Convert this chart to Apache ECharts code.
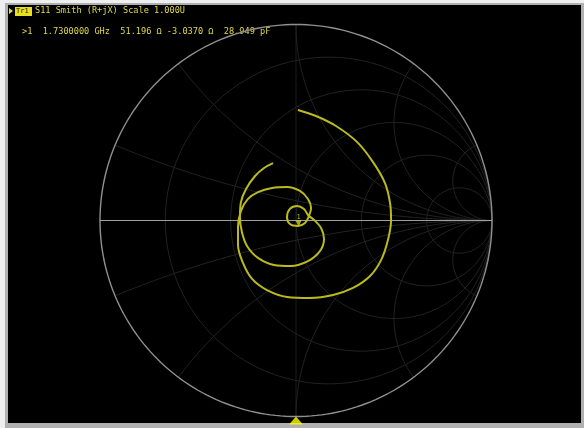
<!DOCTYPE html>
<html><head><meta charset="utf-8">
<script src="https://cdn.jsdelivr.net/npm/echarts/dist/echarts.min.js"></script>
<style>
html,body{margin:0;padding:0;width:584px;height:428px;overflow:hidden;background:#efefef;}
#frame{position:absolute;left:5px;top:3px;width:579px;height:425px;background:#b0b0b0;}
#screen{position:absolute;left:8px;top:5px;width:573px;height:418px;background:#000;}
#chart{position:absolute;left:0;top:0;width:584px;height:428px;}
</style></head>
<body>
<div id="frame"></div><div id="screen"></div><div id="chart"></div>
<script>
// Reflection-coefficient trace (Re, Im of S11)
const traceRe = [0.010,0.102,0.204,0.311,0.393,0.454,0.480,0.485,0.469,0.434,0.378,0.291,0.189,0.071,-0.046,-0.148,-0.224,-0.270,-0.296,-0.296,-0.281,-0.245,-0.194,-0.122,-0.046,0.020,0.061,0.077,
 0.066,0.046,0.010,-0.031,-0.046,-0.031,0.005,0.041,0.061,
 0.092,0.128,0.143,0.122,0.061,-0.026,-0.112,-0.194,-0.250,-0.276,-0.286,-0.281,-0.255,-0.209,-0.163,-0.117];
const traceIm = [0.564,0.533,0.482,0.401,0.298,0.191,0.089,0.003,-0.099,-0.202,-0.283,-0.344,-0.380,-0.395,-0.390,-0.355,-0.298,-0.217,-0.125,-0.033,0.048,0.110,0.145,0.166,0.171,0.151,0.110,0.064,
 0.023,-0.013,-0.028,-0.018,0.018,0.059,0.074,0.059,0.028,
 0.003,-0.038,-0.094,-0.156,-0.207,-0.232,-0.227,-0.191,-0.130,-0.059,0.018,0.094,0.161,0.227,0.268,0.293];
const markerRe = [0.013];
const markerIm = [-0.030];
const markerLabels = ['1'];
const resistanceValues = [0.2, 0.5, 1, 2, 5];
const reactanceValues = [0.2, 0.5, 1, 2, 5];
const headerText = 'S11 Smith (R+jX) Scale 1.000U';
const traceTag = 'Tr1';
const markerReadout = '>1  1.7300000 GHz  51.196 \u03a9 -3.0370 \u03a9  28.949 pF';

// --- grid geometry (chart furniture) ---
function gamma(r, x){ const d=(r+1)*(r+1)+x*x; return [(r*r-1+x*x)/d, 2*x/d]; }
function rCircle(r){ const p=[]; const c=r/(1+r), rad=1/(1+r);
  for(let i=0;i<=240;i++){const t=i/240*2*Math.PI; p.push([c+rad*Math.cos(t), rad*Math.sin(t)]);} return p; }
function xArc(x){ const p=[gamma(0,x)]; for(let k=-60;k<=100;k++){ p.push(gamma(Math.pow(10,k/20),x)); } p.push([1,0]); return p; }

const gridColor = '#222222';
const series = [];
function addLine(data, color, width, z){
  series.push({type:'line', data, showSymbol:false, symbol:'none', silent:true, animation:false,
    lineStyle:{color, width}, z: z||1, clip:false});
}
addLine([[0,-1],[0,1]], '#1c1c1c', 1, 1);
resistanceValues.forEach(r => addLine(rCircle(r), gridColor, 1, 1));
reactanceValues.forEach(x => { addLine(xArc(x), gridColor, 1, 1); addLine(xArc(-x), gridColor, 1, 1); });
addLine(rCircle(0), '#909090', 1.4, 2);
addLine([[-1,0],[1,0]], '#a0a0a0', 1.2, 2);

series.push({type:'line', data: traceRe.map((v,i)=>[v, traceIm[i]]), showSymbol:false, symbol:'none',
  smooth:0.35, animation:false, lineStyle:{color:'#baba1c', width:2}, z:5});
series.push({type:'scatter', data: markerRe.map((v,i)=>[v, markerIm[i]]), symbol:'triangle', symbolRotate:180,
  symbolSize:[6,6], symbolOffset:[0,-3], itemStyle:{color:'#d8d820'}, animation:false, z:6,
  label:{show:true, formatter:(p)=>markerLabels[p.dataIndex], position:'top', distance:0, color:'#d8d820', fontSize:7, fontFamily:'DejaVu Sans Mono'}});
series.push({type:'scatter', data:[[0,-1.02]], symbol:'triangle', symbolSize:[14,8], itemStyle:{color:'#ffff00'}, animation:false, z:6, clip:false, silent:true});

const chart = echarts.init(document.getElementById('chart'), null, {renderer:'canvas'});
const R = 196, cx = 296, cy = 220.5, ext = 1.05;
chart.setOption({
  backgroundColor:'transparent',
  animation:false,
  grid:{left: cx-ext*R, top: cy-ext*R, width: 2*ext*R, height: 2*ext*R},
  xAxis:{type:'value', min:-ext, max:ext, show:false},
  yAxis:{type:'value', min:-ext, max:ext, show:false},
  series,
  graphic:[
    {type:'polygon', shape:{points:[[9,8],[13,11],[9,14]]}, style:{fill:'#e8e020'}},
    {type:'rect', shape:{x:15, y:7, width:17, height:9}, style:{fill:'#e6e020'}},
    {type:'text', x:16, y:7.5, style:{text:traceTag, font:'7px "DejaVu Sans Mono"', fill:'#202000'}},
    {type:'text', x:35, y:6.5, style:{text:headerText, font:'8.6px "DejaVu Sans Mono"', fill:'#e0d84a'}},
    {type:'text', x:22, y:27.5, style:{text:markerReadout, font:'8.6px "DejaVu Sans Mono"', fill:'#e0d84a'}}
  ]
});
</script>
</body></html>
